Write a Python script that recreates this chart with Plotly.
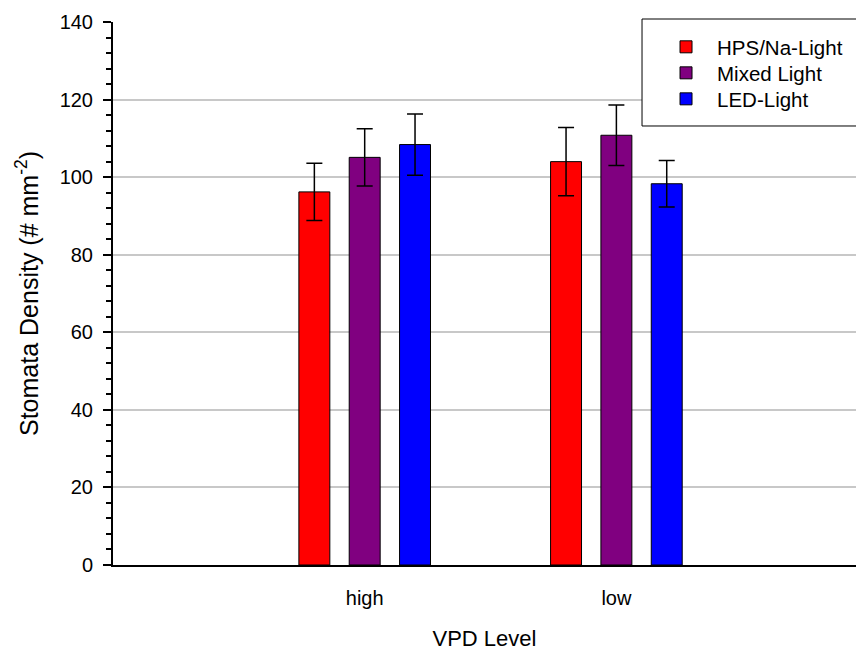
import plotly.graph_objects as go

categories = ["high", "low"]
series_names = ["HPS/Na-Light", "Mixed Light", "LED-Light"]
series_colors = ["#ff0000", "#800080", "#0000ff"]
means = {
    "HPS/Na-Light": [96.2, 104.0],
    "Mixed Light": [105.1, 110.8],
    "LED-Light": [108.4, 98.3],
}
errors = {
    "HPS/Na-Light": [7.4, 8.8],
    "Mixed Light": [7.4, 7.8],
    "LED-Light": [7.9, 6.0],
}

font_family = "Arial, Liberation Sans, sans-serif"
legend_ids = ["legend", "legend2", "legend3"]
legend_tops = [0.9908, 0.9429, 0.8950]

fig = go.Figure()
for name, color, lid in zip(series_names, series_colors, legend_ids):
    fig.add_trace(go.Bar(
        x=categories,
        y=means[name],
        name=name,
        legend=lid,
        showlegend=True,
        marker=dict(color=color, line=dict(color="black", width=1)),
        error_y=dict(type="data", array=errors[name], color="black", thickness=1.5, width=8),
    ))

# legend frame drawn as a paper-space rectangle (extends past right edge like the reference)
fig.add_shape(
    type="rect", xref="paper", yref="paper",
    x0=0.712, x1=1.02, y0=0.8085, y1=1.0055,
    line=dict(color="black", width=1), fillcolor="white", layer="above",
)

legend_style = dict(
    x=0.7295, xanchor="left", yanchor="top",
    borderwidth=0, bgcolor="rgba(0,0,0,0)",
    font=dict(size=20.5), itemwidth=52,
)

fig.update_layout(
    width=856, height=651,
    showlegend=True,
    barmode="group", bargap=0.4, bargroupgap=0.385,
    plot_bgcolor="white", paper_bgcolor="white",
    margin=dict(l=113, r=0, t=22, b=86, autoexpand=False),
    font=dict(family=font_family, size=20, color="black"),
    legend=dict(y=legend_tops[0], **legend_style),
    legend2=dict(y=legend_tops[1], **legend_style),
    legend3=dict(y=legend_tops[2], **legend_style),
    xaxis=dict(
        type="category", range=[-1.0, 1.952],
        showline=True, linecolor="black", linewidth=2,
        ticks="", showgrid=False, ticklabelstandoff=14,
        title=dict(text="VPD Level", font=dict(size=22), standoff=24),
        tickfont=dict(size=20),
    ),
    yaxis=dict(
        range=[0, 140], dtick=20, tick0=0,
        showline=True, linecolor="black", linewidth=2,
        ticks="outside", ticklen=8, tickwidth=2, tickcolor="black",
        showgrid=True, gridcolor="#c8c8c8", gridwidth=1.5,
        zeroline=False, ticklabelstandoff=6,
        minor=dict(dtick=4, ticks="outside", ticklen=5, tickwidth=1.5, tickcolor="black", showgrid=False),
        title=dict(text="Stomata Density (# mm<sup>-2</sup>)", font=dict(size=25), standoff=14),
        tickfont=dict(size=20),
    ),
)

fig.write_html(
    "out.html",
    config={"displayModeBar": False},
    post_script="document.body.style.margin='0';document.body.style.overflow='hidden';",
)
